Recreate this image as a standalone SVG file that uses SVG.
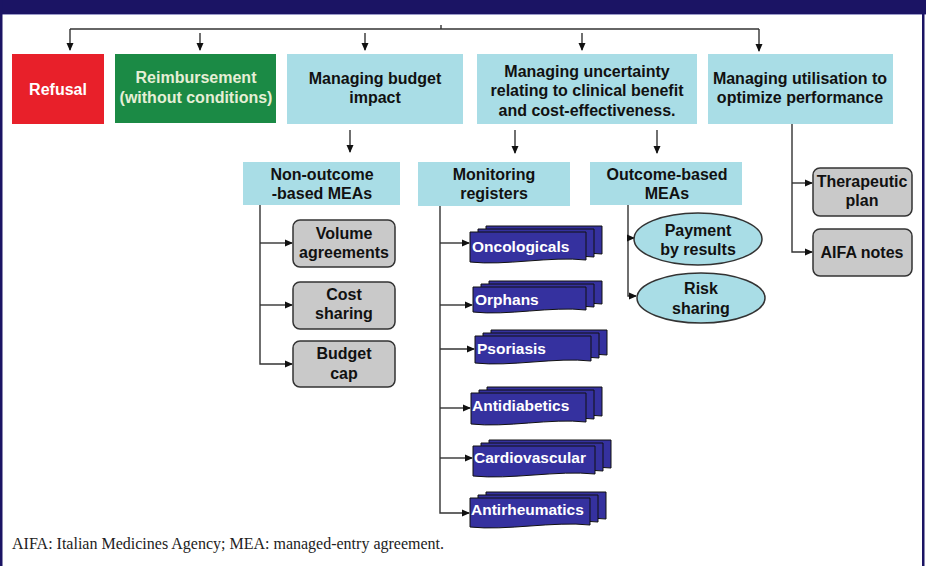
<svg xmlns="http://www.w3.org/2000/svg" width="926" height="566" viewBox="0 0 926 566">
<defs>
<marker id="ah" markerWidth="8" markerHeight="8" refX="7" refY="4" orient="auto" markerUnits="userSpaceOnUse">
<path d="M0,0.5 L8,4 L0,7.5 Z" fill="#111"/>
</marker>
<style>
.t{font-family:"Liberation Sans",Arial,sans-serif;font-weight:bold;font-size:16px;text-anchor:middle;fill:#111}
.w{fill:#fff}
.lb{fill:#a9dde6}
.gr{fill:#c9c9c9;stroke:#333;stroke-width:1.5}
.doc{fill:#35319f;stroke:#111;stroke-width:1}
.dt{font-family:"Liberation Sans",Arial,sans-serif;font-weight:bold;font-size:15.5px;fill:#fff}
.c{fill:none;stroke:#333;stroke-width:1.4}
.ca{fill:none;stroke:#333;stroke-width:1.4;marker-end:url(#ah)}
</style>
</defs>
<rect width="926" height="566" fill="#fff"/>
<rect x="0" y="0" width="926" height="14" fill="#1b1464"/>
<rect x="0" y="14" width="926" height="1" fill="#9a9ac8"/>
<rect x="0" y="0" width="2.5" height="566" fill="#1b1464"/>
<rect x="922" y="0" width="2.5" height="566" fill="#1b1464"/>

<g id="connectors">
<path class="c" d="M70,29 H759"/>
<path class="c" d="M441,25 V29"/>
<path class="ca" d="M70,29 V50"/>
<path class="ca" d="M200,33 V50"/>
<path class="ca" d="M365,33 V50"/>
<path class="ca" d="M582,33 V50"/>
<path class="ca" d="M759,29 V51"/>
<path class="ca" d="M350,130 V152"/>
<path class="ca" d="M515,130 V153"/>
<path class="ca" d="M657,130 V153"/>
<path class="ca" d="M260,205 V364 H292"/>
<path class="ca" d="M260,243 H292"/>
<path class="ca" d="M260,305 H292"/>
<path class="ca" d="M440,206 V513 H469"/>
<path class="ca" d="M440,243 H469"/>
<path class="ca" d="M440,305 H472"/>
<path class="ca" d="M440,349 H474"/>
<path class="ca" d="M440,408 H470"/>
<path class="ca" d="M440,458 H472"/>
<path class="ca" d="M628,205 V296 H636"/>
<path class="ca" d="M628,238 H634"/>
<path class="ca" d="M792,124 V252 H812"/>
<path class="ca" d="M792,183 H812"/>
</g>

<g id="refusal">
<rect x="12" y="54" width="92" height="70" fill="#e8202a"/>
<text class="t w" x="58" y="95">Refusal</text>
</g>
<g id="reimbursement">
<rect x="115" y="54" width="161" height="69" fill="#1b8a45"/>
<text class="t" x="196" y="83" style="fill:#e6efd6">Reimbursement</text>
<text class="t" x="196" y="103" style="fill:#e6efd6">(without conditions)</text>
</g>
<g id="budget">
<rect class="lb" x="287" y="54" width="176" height="70"/>
<text class="t" x="375" y="84">Managing budget</text>
<text class="t" x="375" y="103">impact</text>
</g>
<g id="uncertainty">
<rect class="lb" x="477" y="54" width="220" height="70"/>
<text class="t" x="587" y="77">Managing uncertainty</text>
<text class="t" x="587" y="96">relating to clinical benefit</text>
<text class="t" x="587" y="116">and cost-effectiveness.</text>
</g>
<g id="utilisation">
<rect class="lb" x="708" y="54" width="185" height="70"/>
<text class="t" x="800" y="84">Managing utilisation to</text>
<text class="t" x="800" y="103">optimize performance</text>
</g>

<g id="non-outcome">
<rect class="lb" x="243" y="162" width="157" height="43"/>
<text class="t" x="322" y="180">Non-outcome</text>
<text class="t" x="322" y="199">-based MEAs</text>
</g>
<g id="monitoring">
<rect class="lb" x="418" y="162" width="152" height="44"/>
<text class="t" x="494" y="180">Monitoring</text>
<text class="t" x="494" y="199">registers</text>
</g>
<g id="outcome">
<rect class="lb" x="590" y="162" width="152" height="43"/>
<text class="t" x="667" y="180">Outcome-based</text>
<text class="t" x="667" y="199">MEAs</text>
</g>

<g id="volume">
<rect class="gr" x="293" y="220" width="102" height="47" rx="7"/>
<text class="t" x="344" y="239">Volume</text>
<text class="t" x="344" y="258">agreements</text>
</g>
<g id="cost-sharing">
<rect class="gr" x="293" y="282" width="102" height="47" rx="7"/>
<text class="t" x="344" y="300">Cost</text>
<text class="t" x="344" y="319">sharing</text>
</g>
<g id="budget-cap">
<rect class="gr" x="293" y="341" width="102" height="46" rx="7"/>
<text class="t" x="344" y="359">Budget</text>
<text class="t" x="344" y="379">cap</text>
</g>

<g id="oncologicals">
<path class="doc" d="M486,226 H602 V254 C567,250 521,260 486,256 Z"/>
<path class="doc" d="M478,229 H594 V257 C559,253 513,263 478,259 Z"/>
<path class="doc" d="M470,232 H586 V260 C551,256 505,266 470,262 Z"/>
<text class="dt" x="472" y="252">Oncologicals</text>
</g>
<g id="orphans">
<path class="doc" d="M489,281 H602 V304 C568,300 523,310 489,306 Z"/>
<path class="doc" d="M481,284 H594 V307 C560,303 515,313 481,309 Z"/>
<path class="doc" d="M473,287 H586 V310 C552,306 507,316 473,312 Z"/>
<text class="dt" x="475" y="305">Orphans</text>
</g>
<g id="psoriasis">
<path class="doc" d="M491,330 H607 V355 C572,351 526,361 491,357 Z"/>
<path class="doc" d="M483,333 H599 V358 C564,354 518,364 483,360 Z"/>
<path class="doc" d="M475,336 H591 V361 C556,357 510,367 475,363 Z"/>
<text class="dt" x="477" y="354">Psoriasis</text>
</g>
<g id="antidiabetics">
<path class="doc" d="M487,387 H602 V416 C567,412 522,422 487,418 Z"/>
<path class="doc" d="M479,390 H594 V419 C559,415 514,425 479,421 Z"/>
<path class="doc" d="M471,393 H586 V422 C551,418 506,428 471,424 Z"/>
<text class="dt" x="472" y="411">Antidiabetics</text>
</g>
<g id="cardiovascular">
<path class="doc" d="M489,440 H611 V468 C574,464 526,474 489,470 Z"/>
<path class="doc" d="M481,443 H603 V471 C566,467 518,477 481,473 Z"/>
<path class="doc" d="M473,446 H595 V474 C558,470 510,480 473,476 Z"/>
<text class="dt" x="474" y="463">Cardiovascular</text>
</g>
<g id="antirheumatics">
<path class="doc" d="M486,492 H606 V519 C570,515 522,525 486,521 Z"/>
<path class="doc" d="M478,495 H598 V522 C562,518 514,528 478,524 Z"/>
<path class="doc" d="M470,498 H590 V525 C554,521 506,531 470,527 Z"/>
<text class="dt" x="471" y="515">Antirheumatics</text>
</g>

<g id="payment">
<ellipse class="lb" cx="698" cy="239" rx="64" ry="26" stroke="#333" stroke-width="1.5"/>
<text class="t" x="698" y="236">Payment</text>
<text class="t" x="698" y="255">by results</text>
</g>
<g id="risk">
<ellipse class="lb" cx="701" cy="298" rx="64" ry="25" stroke="#333" stroke-width="1.5"/>
<text class="t" x="701" y="294">Risk</text>
<text class="t" x="701" y="314">sharing</text>
</g>

<g id="therapeutic">
<rect class="gr" x="813" y="168" width="99" height="48" rx="7"/>
<text class="t" x="862" y="187">Therapeutic</text>
<text class="t" x="862" y="206">plan</text>
</g>
<g id="aifa-notes">
<rect class="gr" x="813" y="229" width="99" height="47" rx="7"/>
<text class="t" x="862" y="258">AIFA notes</text>
</g>

<text x="12" y="549" font-family="'Liberation Serif','Times New Roman',serif" font-size="16" fill="#222">AIFA: Italian Medicines Agency; MEA: managed-entry agreement.</text>
</svg>
